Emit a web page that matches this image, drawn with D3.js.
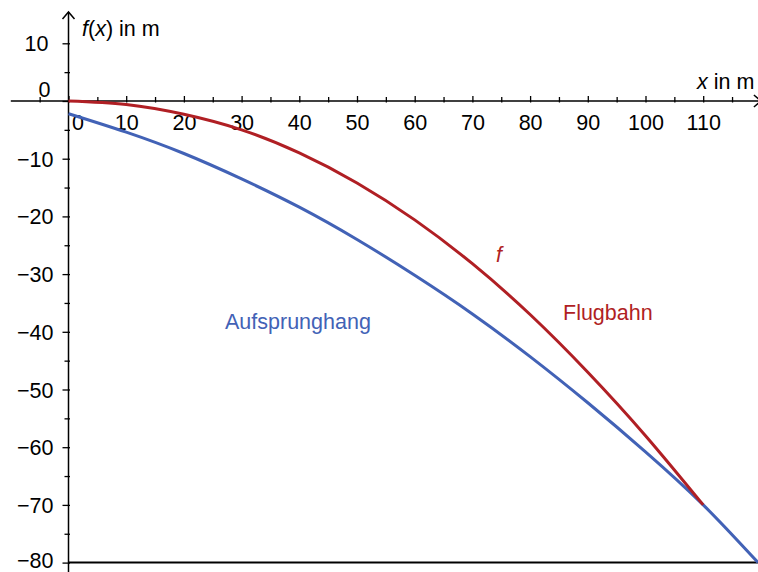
<!DOCTYPE html>
<html>
<head>
<meta charset="utf-8">
<script src="https://cdn.jsdelivr.net/npm/d3@7"></script>
<style>
  html, body { margin: 0; padding: 0; background: #fff; }
  svg { display: block; font-family: "Liberation Sans", Arial, Helvetica, sans-serif; }
</style>
</head>
<body>
<svg id="chart" width="758" height="572"></svg>
<script>
// ---- data ----
const xMajorTicks = [0, 10, 20, 30, 40, 50, 60, 70, 80, 90, 100, 110];
const xMinorTicks = [-5, 5, 15, 25, 35, 45, 55, 65, 75, 85, 95, 105, 115];
const yMajorTicks = [10, 0, -10, -20, -30, -40, -50, -60, -70, -80];
const yMinorTicks = [5, -5, -15, -25, -35, -45, -55, -65, -75];

const flugbahnX = [0, 10, 20, 30, 40, 50, 60, 70, 80, 90, 100, 110];
const flugbahnY = [0, -0.6, -2.3, -5.0, -9.0, -14.2, -20.6, -28.2, -37.0, -47.0, -58.0, -70.0];

const hangX = [0, 10, 20, 30, 40, 50, 60, 70, 80, 90, 100, 110, 119.5];
const hangY = [-2.2, -5.4, -9.1, -13.5, -18.4, -24.0, -30.2, -36.9, -44.3, -52.3, -60.8, -70.0, -80.0];

const RED = "#b01f24";
const BLUE = "#4262b6";

// ---- scales ----
const svg = d3.select("#chart");
const x = d3.scaleLinear().domain([0, 110]).range([68.5, 703.2]);
const y = d3.scaleLinear().domain([0, -80]).range([101, 562.6]);
const fs = 21.5;
const tfs = 21.5;

// ---- axes lines ----
const axisG = svg.append("g").attr("stroke", "#000").attr("fill", "none");
axisG.append("line")
  .attr("x1", x(-10)).attr("x2", 758)
  .attr("y1", y(0)).attr("y2", y(0))
  .attr("stroke-width", 1.5);
axisG.append("path")
  .attr("d", `M${x(120) - 7},${y(0) - 6} L${x(120)},${y(0)} L${x(120) - 7},${y(0) + 6}`)
  .attr("stroke-width", 1.5);
axisG.append("line")
  .attr("x1", x(0)).attr("x2", x(0))
  .attr("y1", 12).attr("y2", 572)
  .attr("stroke-width", 1.5);
axisG.append("path")
  .attr("d", `M${x(0) - 6},${19} L${x(0)},${12} L${x(0) + 6},${19}`)
  .attr("stroke-width", 1.5);
axisG.append("line")
  .attr("x1", x(0)).attr("x2", 758)
  .attr("y1", y(-80)).attr("y2", y(-80))
  .attr("stroke-width", 2);

// ---- x ticks ----
const xAxis = d3.axisBottom(x).tickValues(xMajorTicks).tickSizeInner(-5).tickSizeOuter(0).tickPadding(14)
  .tickFormat(d3.format("d"));
const gx = svg.append("g").attr("transform", `translate(0,${y(0)})`).call(xAxis);
gx.select(".domain").remove();
gx.selectAll(".tick line").attr("stroke-width", 1.3).attr("y1", 1.5);
gx.selectAll(".tick text").attr("font-size", tfs).attr("fill", "#000")
  .attr("font-family", "Liberation Sans, Arial, sans-serif")
  .attr("dx", d => d === 0 ? 9 : 0);

const gxm = svg.append("g").attr("transform", `translate(0,${y(0)})`)
  .call(d3.axisBottom(x).tickValues(xMinorTicks).tickSizeInner(-4).tickSizeOuter(0).tickFormat(""));
gxm.select(".domain").remove();
gxm.selectAll(".tick line").attr("stroke-width", 1.3).attr("y1", 1.5);

// ---- y ticks ----
const yAxis = d3.axisLeft(y).tickValues(yMajorTicks).tickSizeInner(6).tickSizeOuter(0).tickPadding(9)
  .tickFormat(d3.format("d"));
const gy = svg.append("g").attr("transform", `translate(${x(0)},0)`).call(yAxis);
gy.select(".domain").remove();
gy.selectAll(".tick line").attr("stroke-width", 1.3).attr("x2", -6).attr("x1", 1.5);
gy.selectAll(".tick text").attr("font-size", tfs).attr("fill", "#000")
  .attr("font-family", "Liberation Sans, Arial, sans-serif")
  .attr("dy", d => d === 0 ? "-0.2em" : (d === -80 ? "0.22em" : "0.35em"))
  .attr("dx", d => d === 0 ? -3 : (d === 10 ? -5 : 0));

const gym = svg.append("g").attr("transform", `translate(${x(0)},0)`)
  .call(d3.axisLeft(y).tickValues(yMinorTicks).tickSizeInner(4).tickSizeOuter(0).tickFormat(""));
gym.select(".domain").remove();
gym.selectAll(".tick line").attr("stroke-width", 1.3).attr("x1", 1.5);

// ---- curves ----
const line = d3.line().x(d => x(d[0])).y(d => y(d[1])).curve(d3.curveNatural);
const hang = hangX.map((v, i) => [v, hangY[i]]);
const flug = flugbahnX.map((v, i) => [v, flugbahnY[i]]);

svg.append("path").datum(hang).attr("d", line)
  .attr("fill", "none").attr("stroke", BLUE).attr("stroke-width", 3);
svg.append("path").datum(flug).attr("d", line)
  .attr("fill", "none").attr("stroke", RED).attr("stroke-width", 3);

// ---- labels ----
const yLab = svg.append("text").attr("x", 82).attr("y", 36).attr("font-size", fs).attr("fill", "#000");
yLab.append("tspan").attr("font-style", "italic").text("f");
yLab.append("tspan").text("(");
yLab.append("tspan").attr("font-style", "italic").text("x");
yLab.append("tspan").text(") in m");

const xLab = svg.append("text").attr("x", 697).attr("y", 89).attr("font-size", fs).attr("fill", "#000");
xLab.append("tspan").attr("font-style", "italic").text("x");
xLab.append("tspan").text(" in m");

svg.append("text").attr("x", 225).attr("y", 329).attr("font-size", fs).attr("fill", BLUE)
  .text("Aufsprunghang");
svg.append("text").attr("x", 563).attr("y", 320).attr("font-size", fs).attr("fill", RED)
  .text("Flugbahn");
svg.append("text").attr("x", 496).attr("y", 262).attr("font-size", fs).attr("fill", RED)
  .attr("font-style", "italic").text("f");
</script>
</body>
</html>
